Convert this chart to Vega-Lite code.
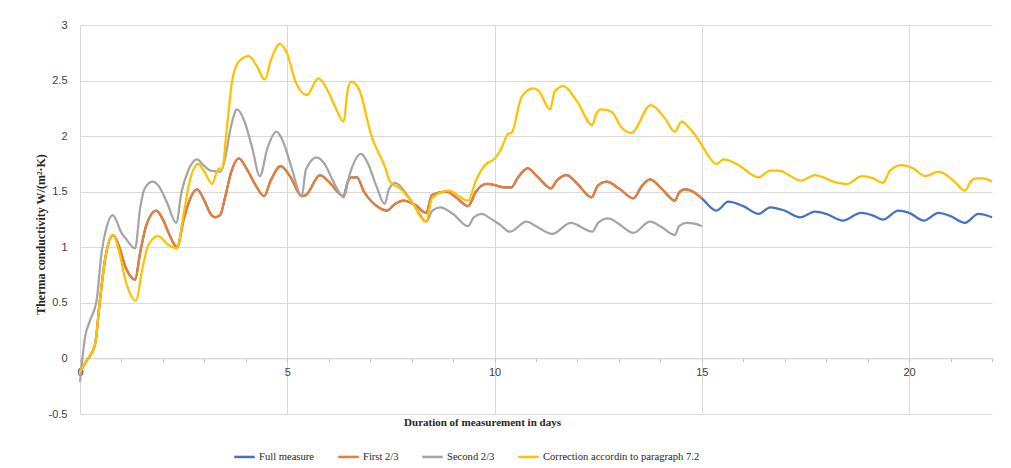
{
"$schema": "https://vega.github.io/schema/vega-lite/v6.json",
"width": 912, "height": 389,
"autosize": "none",
"padding": {"left": 80, "top": 25, "right": 19, "bottom": 54},
"background": "white",
"config": {"view": {"stroke": null}},
"datasets": {
"full": [{"d":0,"v":-0.12},{"d":0.16,"v":-0.02},{"d":0.36,"v":0.12},{"d":0.48,"v":0.52},{"d":0.6,"v":0.88},{"d":0.8,"v":1.11},{"d":0.95,"v":1.0},{"d":1.1,"v":0.82},{"d":1.33,"v":0.71},{"d":1.45,"v":0.95},{"d":1.6,"v":1.2},{"d":1.84,"v":1.33},{"d":2.0,"v":1.25},{"d":2.15,"v":1.12},{"d":2.34,"v":1.0},{"d":2.5,"v":1.25},{"d":2.65,"v":1.43},{"d":2.82,"v":1.52},{"d":3.0,"v":1.42},{"d":3.15,"v":1.3},{"d":3.25,"v":1.27},{"d":3.38,"v":1.29},{"d":3.5,"v":1.45},{"d":3.65,"v":1.68},{"d":3.83,"v":1.8},{"d":4.0,"v":1.72},{"d":4.25,"v":1.55},{"d":4.44,"v":1.46},{"d":4.6,"v":1.6},{"d":4.84,"v":1.73},{"d":5.08,"v":1.63},{"d":5.35,"v":1.46},{"d":5.45,"v":1.47},{"d":5.79,"v":1.65},{"d":6.0,"v":1.59},{"d":6.36,"v":1.46},{"d":6.45,"v":1.58},{"d":6.55,"v":1.63},{"d":6.68,"v":1.63},{"d":6.85,"v":1.5},{"d":7.04,"v":1.41},{"d":7.2,"v":1.36},{"d":7.4,"v":1.33},{"d":7.6,"v":1.39},{"d":7.8,"v":1.42},{"d":8.09,"v":1.38},{"d":8.35,"v":1.31},{"d":8.49,"v":1.47},{"d":8.85,"v":1.5},{"d":9.1,"v":1.44},{"d":9.36,"v":1.37},{"d":9.55,"v":1.5},{"d":9.81,"v":1.57},{"d":10.01,"v":1.56},{"d":10.21,"v":1.54},{"d":10.41,"v":1.54},{"d":10.55,"v":1.62},{"d":10.8,"v":1.71},{"d":11.05,"v":1.63},{"d":11.36,"v":1.53},{"d":11.5,"v":1.6},{"d":11.74,"v":1.65},{"d":12.0,"v":1.57},{"d":12.34,"v":1.45},{"d":12.5,"v":1.56},{"d":12.7,"v":1.59},{"d":13.0,"v":1.53},{"d":13.35,"v":1.44},{"d":13.55,"v":1.55},{"d":13.75,"v":1.61},{"d":14.05,"v":1.52},{"d":14.35,"v":1.42},{"d":14.45,"v":1.49},{"d":14.59,"v":1.52},{"d":14.83,"v":1.49},{"d":15.0,"v":1.44},{"d":15.35,"v":1.33},{"d":15.64,"v":1.41},{"d":16.0,"v":1.37},{"d":16.37,"v":1.3},{"d":16.65,"v":1.36},{"d":17.0,"v":1.33},{"d":17.37,"v":1.27},{"d":17.73,"v":1.32},{"d":18.0,"v":1.3},{"d":18.4,"v":1.24},{"d":18.84,"v":1.31},{"d":19.1,"v":1.29},{"d":19.37,"v":1.25},{"d":19.74,"v":1.33},{"d":20.0,"v":1.31},{"d":20.36,"v":1.24},{"d":20.71,"v":1.31},{"d":21.0,"v":1.28},{"d":21.35,"v":1.22},{"d":21.67,"v":1.3},{"d":22.0,"v":1.27}],
"first": [{"d":0,"v":-0.12},{"d":0.16,"v":-0.02},{"d":0.36,"v":0.12},{"d":0.48,"v":0.52},{"d":0.6,"v":0.88},{"d":0.8,"v":1.11},{"d":0.95,"v":1.0},{"d":1.1,"v":0.82},{"d":1.33,"v":0.71},{"d":1.45,"v":0.95},{"d":1.6,"v":1.2},{"d":1.84,"v":1.33},{"d":2.0,"v":1.25},{"d":2.15,"v":1.12},{"d":2.34,"v":1.0},{"d":2.5,"v":1.25},{"d":2.65,"v":1.43},{"d":2.82,"v":1.52},{"d":3.0,"v":1.42},{"d":3.15,"v":1.3},{"d":3.25,"v":1.27},{"d":3.38,"v":1.29},{"d":3.5,"v":1.45},{"d":3.65,"v":1.68},{"d":3.83,"v":1.8},{"d":4.0,"v":1.72},{"d":4.25,"v":1.55},{"d":4.44,"v":1.46},{"d":4.6,"v":1.6},{"d":4.84,"v":1.73},{"d":5.08,"v":1.63},{"d":5.35,"v":1.46},{"d":5.45,"v":1.47},{"d":5.79,"v":1.65},{"d":6.0,"v":1.59},{"d":6.36,"v":1.46},{"d":6.45,"v":1.58},{"d":6.55,"v":1.63},{"d":6.68,"v":1.63},{"d":6.85,"v":1.5},{"d":7.04,"v":1.41},{"d":7.2,"v":1.36},{"d":7.4,"v":1.33},{"d":7.6,"v":1.39},{"d":7.8,"v":1.42},{"d":8.09,"v":1.38},{"d":8.35,"v":1.31},{"d":8.49,"v":1.47},{"d":8.85,"v":1.5},{"d":9.1,"v":1.44},{"d":9.36,"v":1.37},{"d":9.55,"v":1.5},{"d":9.81,"v":1.57},{"d":10.01,"v":1.56},{"d":10.21,"v":1.54},{"d":10.41,"v":1.54},{"d":10.55,"v":1.62},{"d":10.8,"v":1.71},{"d":11.05,"v":1.63},{"d":11.36,"v":1.53},{"d":11.5,"v":1.6},{"d":11.74,"v":1.65},{"d":12.0,"v":1.57},{"d":12.34,"v":1.45},{"d":12.5,"v":1.56},{"d":12.7,"v":1.59},{"d":13.0,"v":1.53},{"d":13.35,"v":1.44},{"d":13.55,"v":1.55},{"d":13.75,"v":1.61},{"d":14.05,"v":1.52},{"d":14.35,"v":1.42},{"d":14.45,"v":1.49},{"d":14.59,"v":1.52},{"d":14.83,"v":1.49},{"d":15.0,"v":1.44}],
"second": [{"d":0,"v":-0.21},{"d":0.12,"v":0.19},{"d":0.24,"v":0.34},{"d":0.4,"v":0.52},{"d":0.52,"v":0.95},{"d":0.64,"v":1.18},{"d":0.79,"v":1.29},{"d":1.0,"v":1.13},{"d":1.1,"v":1.08},{"d":1.33,"v":0.99},{"d":1.45,"v":1.35},{"d":1.55,"v":1.52},{"d":1.75,"v":1.59},{"d":1.9,"v":1.55},{"d":2.1,"v":1.4},{"d":2.32,"v":1.22},{"d":2.45,"v":1.5},{"d":2.6,"v":1.68},{"d":2.82,"v":1.79},{"d":3.0,"v":1.73},{"d":3.15,"v":1.69},{"d":3.39,"v":1.68},{"d":3.5,"v":1.8},{"d":3.65,"v":2.1},{"d":3.79,"v":2.24},{"d":3.95,"v":2.15},{"d":4.15,"v":1.9},{"d":4.34,"v":1.64},{"d":4.52,"v":1.89},{"d":4.74,"v":2.04},{"d":4.9,"v":1.95},{"d":5.1,"v":1.72},{"d":5.35,"v":1.46},{"d":5.45,"v":1.7},{"d":5.71,"v":1.81},{"d":5.9,"v":1.75},{"d":6.1,"v":1.6},{"d":6.36,"v":1.45},{"d":6.5,"v":1.65},{"d":6.78,"v":1.84},{"d":6.95,"v":1.75},{"d":7.15,"v":1.55},{"d":7.35,"v":1.39},{"d":7.45,"v":1.52},{"d":7.6,"v":1.58},{"d":7.93,"v":1.45},{"d":8.15,"v":1.33},{"d":8.35,"v":1.23},{"d":8.5,"v":1.33},{"d":8.69,"v":1.36},{"d":9.0,"v":1.3},{"d":9.36,"v":1.19},{"d":9.5,"v":1.27},{"d":9.69,"v":1.3},{"d":9.9,"v":1.26},{"d":10.14,"v":1.2},{"d":10.37,"v":1.14},{"d":10.77,"v":1.23},{"d":11.0,"v":1.19},{"d":11.39,"v":1.12},{"d":11.84,"v":1.22},{"d":12.36,"v":1.14},{"d":12.5,"v":1.22},{"d":12.74,"v":1.26},{"d":13.0,"v":1.21},{"d":13.35,"v":1.13},{"d":13.75,"v":1.23},{"d":14.0,"v":1.19},{"d":14.35,"v":1.11},{"d":14.45,"v":1.19},{"d":14.63,"v":1.22},{"d":14.85,"v":1.21},{"d":15.0,"v":1.19}],
"corr": [{"d":0,"v":-0.12},{"d":0.16,"v":-0.02},{"d":0.36,"v":0.12},{"d":0.48,"v":0.52},{"d":0.6,"v":0.88},{"d":0.8,"v":1.11},{"d":0.95,"v":0.95},{"d":1.1,"v":0.7},{"d":1.35,"v":0.52},{"d":1.5,"v":0.8},{"d":1.65,"v":1.02},{"d":1.88,"v":1.1},{"d":2.14,"v":1.02},{"d":2.34,"v":0.99},{"d":2.5,"v":1.3},{"d":2.65,"v":1.6},{"d":2.85,"v":1.75},{"d":3.0,"v":1.68},{"d":3.19,"v":1.57},{"d":3.3,"v":1.68},{"d":3.36,"v":1.71},{"d":3.42,"v":1.7},{"d":3.55,"v":2.1},{"d":3.67,"v":2.5},{"d":3.83,"v":2.67},{"d":4.07,"v":2.72},{"d":4.25,"v":2.64},{"d":4.46,"v":2.51},{"d":4.6,"v":2.68},{"d":4.82,"v":2.83},{"d":5.0,"v":2.74},{"d":5.19,"v":2.5},{"d":5.47,"v":2.37},{"d":5.75,"v":2.52},{"d":5.99,"v":2.4},{"d":6.16,"v":2.26},{"d":6.36,"v":2.13},{"d":6.45,"v":2.4},{"d":6.54,"v":2.49},{"d":6.72,"v":2.43},{"d":7.04,"v":1.99},{"d":7.36,"v":1.72},{"d":7.48,"v":1.59},{"d":7.72,"v":1.53},{"d":8.0,"v":1.41},{"d":8.35,"v":1.23},{"d":8.49,"v":1.44},{"d":8.89,"v":1.51},{"d":9.36,"v":1.42},{"d":9.55,"v":1.6},{"d":9.77,"v":1.74},{"d":10.01,"v":1.8},{"d":10.14,"v":1.87},{"d":10.33,"v":2.02},{"d":10.41,"v":2.03},{"d":10.65,"v":2.35},{"d":10.93,"v":2.43},{"d":11.06,"v":2.41},{"d":11.34,"v":2.24},{"d":11.45,"v":2.4},{"d":11.66,"v":2.45},{"d":11.98,"v":2.32},{"d":12.36,"v":2.1},{"d":12.45,"v":2.2},{"d":12.58,"v":2.24},{"d":12.82,"v":2.22},{"d":13.06,"v":2.08},{"d":13.3,"v":2.03},{"d":13.77,"v":2.28},{"d":14.11,"v":2.16},{"d":14.35,"v":2.04},{"d":14.51,"v":2.13},{"d":14.75,"v":2.05},{"d":15.0,"v":1.92},{"d":15.2,"v":1.8},{"d":15.35,"v":1.75},{"d":15.52,"v":1.79},{"d":15.84,"v":1.75},{"d":16.37,"v":1.63},{"d":16.65,"v":1.69},{"d":16.85,"v":1.69},{"d":17.4,"v":1.6},{"d":17.73,"v":1.65},{"d":18.18,"v":1.59},{"d":18.5,"v":1.57},{"d":18.86,"v":1.64},{"d":19.14,"v":1.62},{"d":19.37,"v":1.58},{"d":19.54,"v":1.69},{"d":19.82,"v":1.74},{"d":20.1,"v":1.71},{"d":20.39,"v":1.64},{"d":20.71,"v":1.68},{"d":21.07,"v":1.6},{"d":21.35,"v":1.51},{"d":21.5,"v":1.6},{"d":21.63,"v":1.62},{"d":21.79,"v":1.62},{"d":22.0,"v":1.59}]
},
"encoding": {
  "x": {"field": "d", "type": "quantitative",
    "scale": {"domain": [0, 22], "nice": false, "zero": false},
    "axis": {"title": "Duration of measurement in days",
      "values": [0,1,2,3,4,5,6,7,8,9,10,11,12,13,14,15,16,17,18,19,20,21,22],
      "offset": -55.6,
      "labelExpr": "datum.value % 5 == 0 ? '' + datum.value : ''",
      "labelOverlap": false, "labelFlush": false,
      "gridOpacity": {"condition": {"test": "datum.value % 5 == 0", "value": 1}, "value": 0},
      "gridColor": "#D9D9D9", "gridWidth": 1,
      "domainColor": "#D9D9D9", "tickColor": "#BFBFBF", "tickSize": 3,
      "labelFont": "Liberation Sans", "labelFontSize": 11, "labelColor": "#404040", "labelPadding": 5,
      "titleFont": "Liberation Serif", "titleFontWeight": "bold", "titleFontSize": 11, "titleColor": "#262626",
      "titleX": 402, "titleY": 64, "titleBaseline": "middle", "titleAlign": "center"}},
  "y": {"field": "v", "type": "quantitative",
    "scale": {"domain": [-0.5, 3], "nice": false, "zero": false},
    "axis": {"title": "Therma conductivity W/(m²·K)",
      "values": [-0.5, 0, 0.5, 1, 1.5, 2, 2.5, 3],
      "labelExpr": "'' + datum.value",
      "ticks": false, "domain": false,
      "gridColor": "#D9D9D9", "gridWidth": 1,
      "labelFont": "Liberation Sans", "labelFontSize": 11, "labelColor": "#404040", "labelPadding": 13,
      "titleFont": "Liberation Serif", "titleFontWeight": "bold", "titleFontSize": 12, "titleColor": "#262626",
      "titleX": -40, "titleY": 209, "titleAngle": -90, "titleBaseline": "middle", "titleAlign": "center"}}
},
"layer": [
  {"data": {"name": "full"},
   "mark": {"type": "line", "interpolate": "monotone", "strokeWidth": 2.25},
   "encoding": {"color": {"datum": "Full measure",
     "scale": {"domain": ["Full measure", "First 2/3", "Second 2/3", "Correction accordin to paragraph 7.2"],
               "range": ["#4472C4", "#ED7D31", "#A5A5A5", "#FFC000"]},
     "legend": {"orient": "none", "legendX": 153, "legendY": 420, "direction": "horizontal", "title": null,
       "symbolType": "stroke", "symbolSize": 420, "symbolStrokeWidth": 2.5,
       "labelFont": "Liberation Serif", "labelFontSize": 10.6, "labelColor": "#262626",
       "labelOffset": 3, "columnPadding": 18, "labelLimit": 400}}}},
  {"data": {"name": "first"},
   "mark": {"type": "line", "interpolate": "monotone", "strokeWidth": 2.25},
   "encoding": {"color": {"datum": "First 2/3"}}},
  {"data": {"name": "second"},
   "mark": {"type": "line", "interpolate": "monotone", "strokeWidth": 2.25},
   "encoding": {"color": {"datum": "Second 2/3"}}},
  {"data": {"name": "corr"},
   "mark": {"type": "line", "interpolate": "monotone", "strokeWidth": 2.25},
   "encoding": {"color": {"datum": "Correction accordin to paragraph 7.2"}}}
]
}
